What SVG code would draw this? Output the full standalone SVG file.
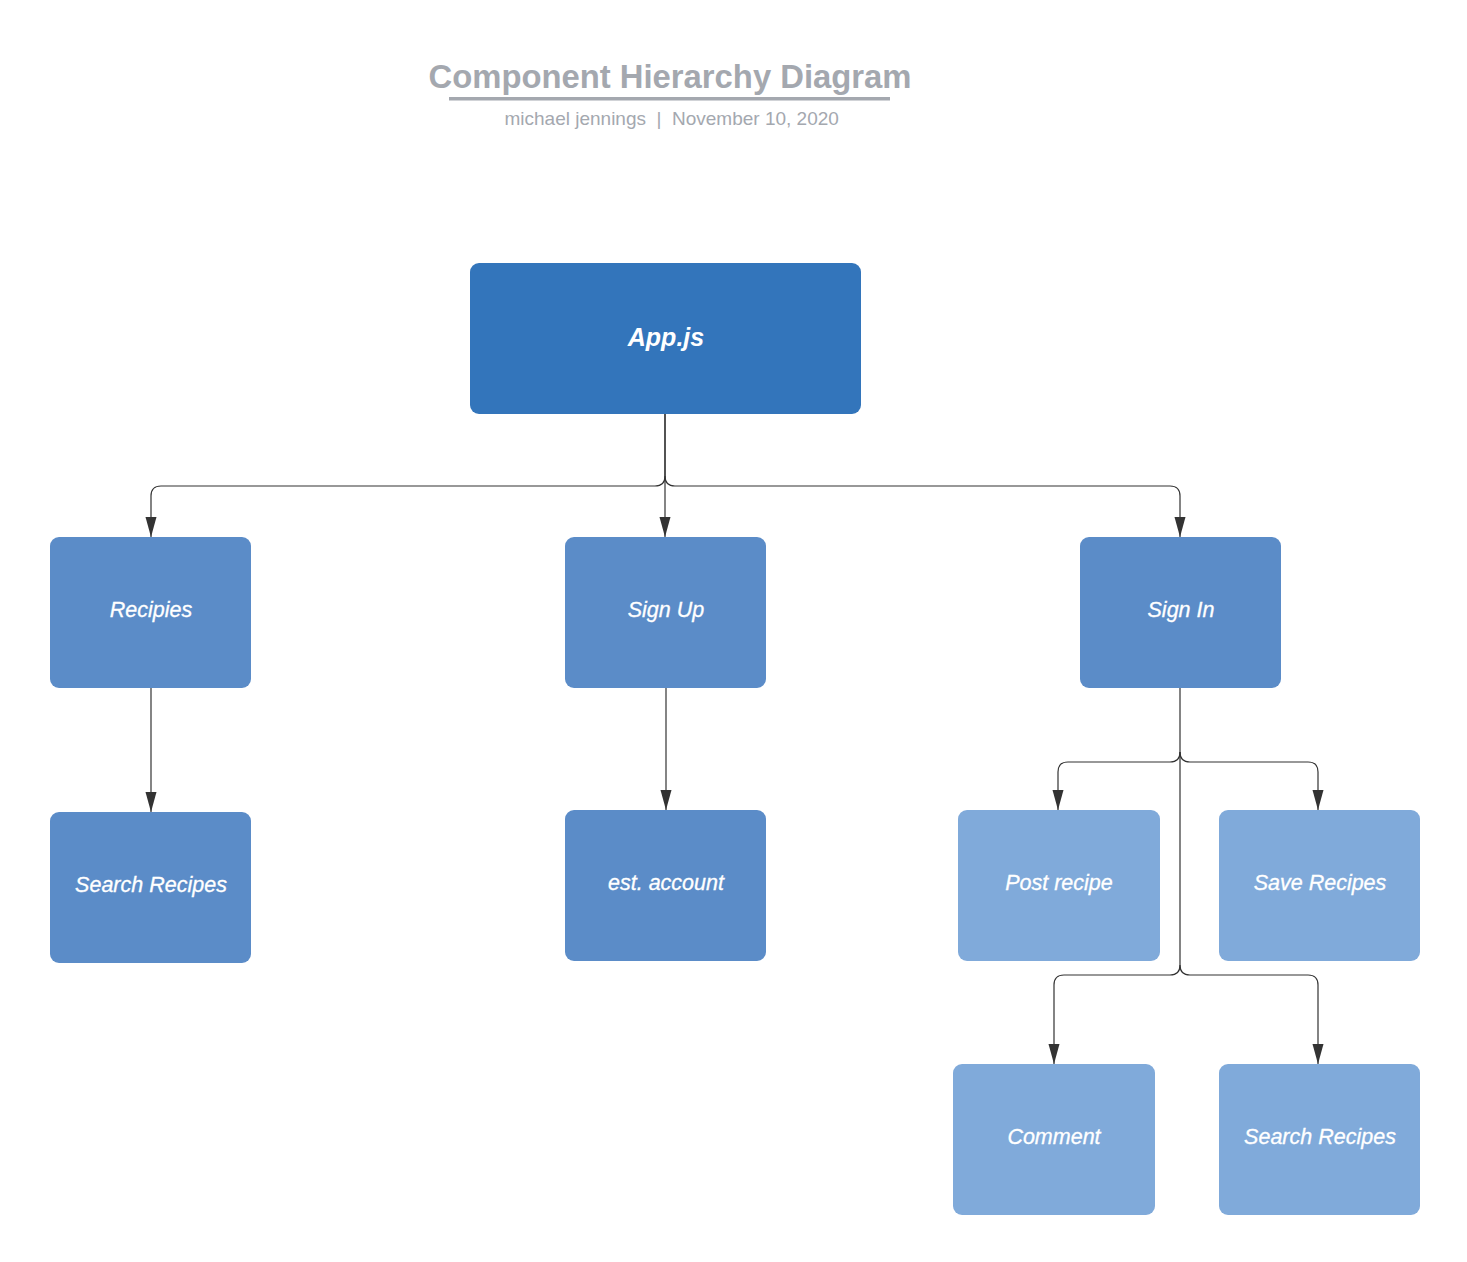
<svg xmlns="http://www.w3.org/2000/svg" width="1467" height="1262" viewBox="0 0 1467 1262">
<defs>
<style>
.t{font-family:"Liberation Sans",Arial,sans-serif;fill:#fff;font-style:italic;text-anchor:middle}
.n{font-size:21.5px;stroke:#fff;stroke-width:0.3}
.c{fill:none;stroke:#333;stroke-width:1.2}
.d{fill:#5B8CC8}
.l{fill:#80AADA}
.s{font-family:"Liberation Sans",Arial,sans-serif;font-size:19px;fill:#A4A8AF}
</style>
<marker id="ar" markerUnits="userSpaceOnUse" markerWidth="22" markerHeight="12" refX="20" refY="6" orient="auto" viewBox="0 0 22 12">
<path d="M0,0.5 L20,6 L0,11.5 Z" fill="#333"/>
</marker>
</defs>
<rect width="1467" height="1262" fill="#fff"/>
<g id="title">
<text x="670" y="88" font-family="Liberation Sans,Arial,sans-serif" font-weight="bold" font-size="32.8" fill="#A4A8AF" text-anchor="middle">Component Hierarchy Diagram</text>
<rect x="449" y="97" width="441" height="3.5" fill="#A4A8AF"/>
<text class="s" x="646" y="125" text-anchor="end">michael jennings</text>
<text class="s" x="659" y="125" text-anchor="middle">|</text>
<text class="s" x="672" y="125">November 10, 2020</text>
</g>
<g id="connectors">
<path class="c" d="M665,414 V476 Q665,486 655,486 H161 Q151,486 151,496 V537" marker-end="url(#ar)"/>
<path class="c" d="M665,414 V537" marker-end="url(#ar)"/>
<path class="c" d="M665,476 Q665,486 675,486 H1170 Q1180,486 1180,496 V537" marker-end="url(#ar)"/>
<path class="c" d="M151,688 V812" marker-end="url(#ar)"/>
<path class="c" d="M666,688 V810" marker-end="url(#ar)"/>
<path class="c" d="M1180,688 V752 Q1180,762 1170,762 H1068 Q1058,762 1058,772 V810" marker-end="url(#ar)"/>
<path class="c" d="M1180,752 Q1180,762 1190,762 H1308 Q1318,762 1318,772 V810" marker-end="url(#ar)"/>
<path class="c" d="M1180,752 V965 Q1180,975 1170,975 H1064 Q1054,975 1054,985 V1064" marker-end="url(#ar)"/>
<path class="c" d="M1180,965 Q1180,975 1190,975 H1308 Q1318,975 1318,985 V1064" marker-end="url(#ar)"/>
</g>
<g id="app">
<rect x="470" y="263" width="391" height="151" rx="9" fill="#3375BB"/>
<text class="t" x="666" y="346" font-size="25" font-weight="bold">App.js</text>
</g>
<g id="recipies">
<rect class="d" x="50" y="537" width="201" height="151" rx="9"/>
<text class="t n" x="151" y="617">Recipies</text>
</g>
<g id="signup">
<rect class="d" x="565" y="537" width="201" height="151" rx="9"/>
<text class="t n" x="666" y="617">Sign Up</text>
</g>
<g id="signin">
<rect class="d" x="1080" y="537" width="201" height="151" rx="9"/>
<text class="t n" x="1181" y="617">Sign In</text>
</g>
<g id="search1">
<rect class="d" x="50" y="812" width="201" height="151" rx="9"/>
<text class="t n" x="151" y="892">Search Recipes</text>
</g>
<g id="estaccount">
<rect class="d" x="565" y="810" width="201" height="151" rx="9"/>
<text class="t n" x="666" y="890">est. account</text>
</g>
<g id="postrecipe">
<rect class="l" x="958" y="810" width="202" height="151" rx="9"/>
<text class="t n" x="1059" y="890">Post recipe</text>
</g>
<g id="saverecipes">
<rect class="l" x="1219" y="810" width="201" height="151" rx="9"/>
<text class="t n" x="1320" y="890">Save Recipes</text>
</g>
<g id="comment">
<rect class="l" x="953" y="1064" width="202" height="151" rx="9"/>
<text class="t n" x="1054" y="1144">Comment</text>
</g>
<g id="search2">
<rect class="l" x="1219" y="1064" width="201" height="151" rx="9"/>
<text class="t n" x="1320" y="1144">Search Recipes</text>
</g>
</svg>
